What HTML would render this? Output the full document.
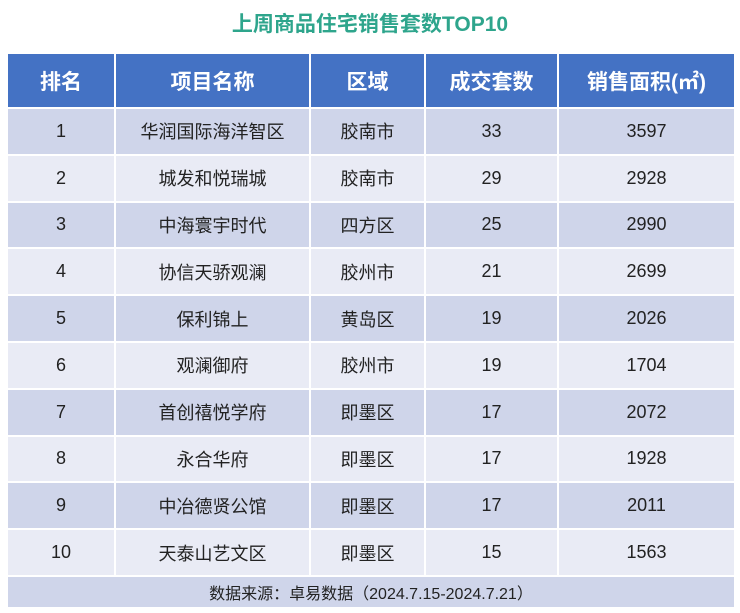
<!DOCTYPE html>
<html><head><meta charset="utf-8"><style>
body{margin:0;width:740px;height:613px;background:#fff;font-family:"Liberation Sans","Noto Sans CJK SC",sans-serif;position:relative;overflow:hidden}
.title{position:absolute;top:8px;left:0;width:740px;text-align:center;color:#2ea58c;font-weight:bold;font-size:21px}
table{position:absolute;left:6px;top:52px;border-collapse:collapse;width:730px}
td,th{border:2px solid #fff;text-align:center;padding:0;font-size:18px;color:#222}
th{background:#4472c4;color:#fff;font-size:21px;height:53px;font-weight:bold}
tr.o td{background:#cfd5ea}
tr.e td{background:#e9ebf5}
td{height:44.8px}
td.f{height:30px;background:#cfd5ea;font-size:16px}
</style></head><body>
<div class="title">上周商品住宅销售套数TOP10</div>
<table>
<tr><th style="width:106px">排名</th><th style="width:193px">项目名称</th><th style="width:113px">区域</th><th style="width:131px">成交套数</th><th>销售面积(㎡)</th></tr>
<tr class="o"><td>1</td><td>华润国际海洋智区</td><td>胶南市</td><td>33</td><td>3597</td></tr>
<tr class="e"><td>2</td><td>城发和悦瑞城</td><td>胶南市</td><td>29</td><td>2928</td></tr>
<tr class="o"><td>3</td><td>中海寰宇时代</td><td>四方区</td><td>25</td><td>2990</td></tr>
<tr class="e"><td>4</td><td>协信天骄观澜</td><td>胶州市</td><td>21</td><td>2699</td></tr>
<tr class="o"><td>5</td><td>保利锦上</td><td>黄岛区</td><td>19</td><td>2026</td></tr>
<tr class="e"><td>6</td><td>观澜御府</td><td>胶州市</td><td>19</td><td>1704</td></tr>
<tr class="o"><td>7</td><td>首创禧悦学府</td><td>即墨区</td><td>17</td><td>2072</td></tr>
<tr class="e"><td>8</td><td>永合华府</td><td>即墨区</td><td>17</td><td>1928</td></tr>
<tr class="o"><td>9</td><td>中冶德贤公馆</td><td>即墨区</td><td>17</td><td>2011</td></tr>
<tr class="e"><td>10</td><td>天泰山艺文区</td><td>即墨区</td><td>15</td><td>1563</td></tr>
<tr><td class="f" colspan="5">数据来源：卓易数据（2024.7.15-2024.7.21）</td></tr>
</table>
</body></html>
